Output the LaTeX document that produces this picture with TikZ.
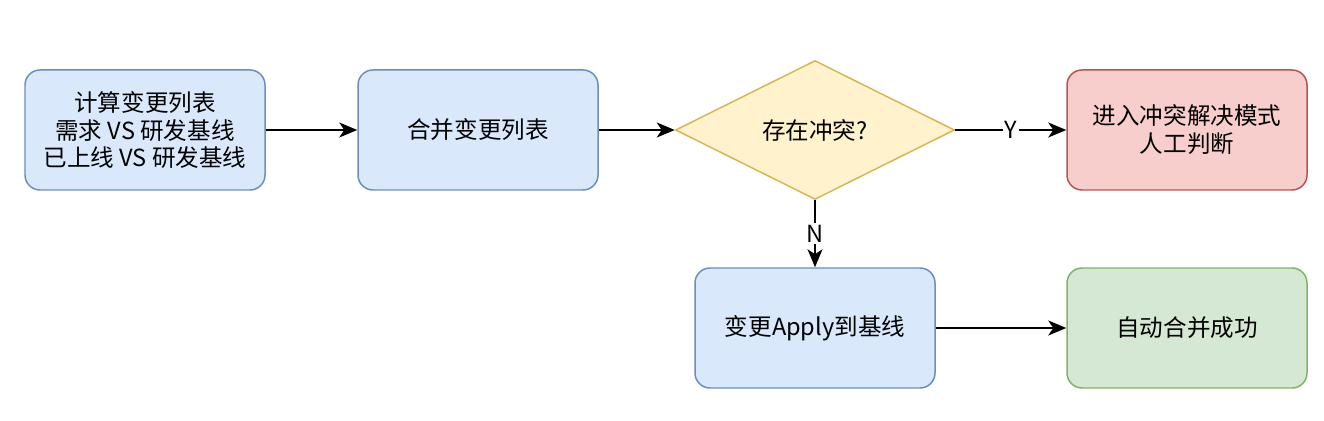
\documentclass[tikz,border=0pt]{standalone}
\usepackage{fontspec}
\setmainfont{Noto Sans CJK SC}
\usetikzlibrary{shapes.geometric,arrows.meta}
\tikzset{
    stepbox/.style={draw, rounded corners=0.3cm, line width=0.85pt,
        minimum width=4.8cm, minimum height=2.4cm, align=center,
        font=\fontsize{13.4}{15.9}\selectfont},
    decide/.style={diamond, draw, line width=0.85pt, inner sep=0pt,
        minimum width=5.58cm, minimum height=2.78cm, align=center,
        font=\fontsize{13.4}{15.9}\selectfont},
    flow/.style={-{Stealth[length=0.36cm,width=0.3cm,inset=0.1cm]}, line width=0.85pt},
    flowlabel/.style={fill=white, inner sep=1pt, font=\fontsize{13.4}{15}\selectfont},
}
\definecolor{blueFill}{HTML}{DAE8FC}
\definecolor{blueLine}{HTML}{6C8EBF}
\definecolor{yellowFill}{HTML}{FFF2CC}
\definecolor{yellowLine}{HTML}{D6B656}
\definecolor{redFill}{HTML}{F8CECC}
\definecolor{redLine}{HTML}{B85450}
\definecolor{greenFill}{HTML}{D5E8D4}
\definecolor{greenLine}{HTML}{82B366}
\begin{document}
\begin{tikzpicture}
    \useasboundingbox (0,0) rectangle (26.48,8.4);
    % boxes
    \node[stepbox, fill=blueFill, draw=blueLine] (calc) at (2.9,5.8) {计算变更列表\\需求 VS 研发基线\\已上线 VS 研发基线};
    \node[stepbox, fill=blueFill, draw=blueLine] (merge) at (9.56,5.8) {合并变更列表};
    \node[decide, fill=yellowFill, draw=yellowLine] (conflict) at (16.3,5.8) {存在冲突?};
    \node[stepbox, fill=redFill, draw=redLine] (manual) at (23.74,5.8) {进入冲突解决模式\\人工判断};
    \node[stepbox, fill=blueFill, draw=blueLine] (apply) at (16.3,1.84) {变更Apply到基线};
    \node[stepbox, fill=greenFill, draw=greenLine] (done) at (23.74,1.84) {自动合并成功};
    % connectors
    \draw[flow] (calc) -- (merge);
    \draw[flow] (merge) -- (conflict);
    \draw[flow] (conflict) -- node[flowlabel] {Y} (manual);
    \draw[flow] (conflict) -- node[flowlabel] {N} (apply);
    \draw[flow] (apply) -- (done);
\end{tikzpicture}
\end{document}
